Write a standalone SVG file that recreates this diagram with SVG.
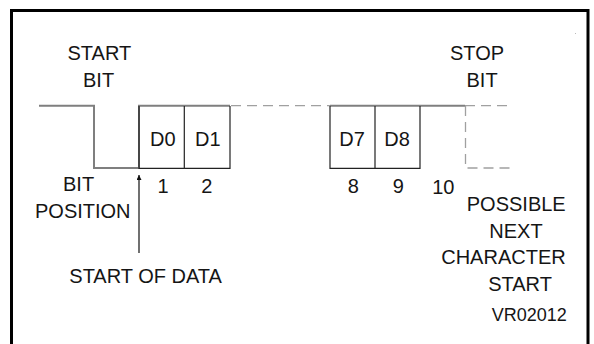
<svg xmlns="http://www.w3.org/2000/svg" width="594" height="344" viewBox="0 0 594 344">
<defs>
<style>
.t{font-family:"Liberation Sans",Arial,sans-serif;font-size:20px;fill:#151515}
.s{font-size:18px}
.w{fill:none;stroke:#7f7f7f;stroke-width:2}
.d{fill:none;stroke:#a0a0a0;stroke-width:1.3;stroke-dasharray:10 6}
.b{fill:none;stroke:#222;stroke-width:1.2}
</style>
<marker id="ah" viewBox="0 0 10 10" refX="10" refY="5" markerWidth="12" markerHeight="5" markerUnits="userSpaceOnUse" orient="auto">
<path d="M0,0 L10,5 L0,10 Z" fill="#111"/>
</marker>
</defs>
<rect width="594" height="344" fill="#fff"/>
<path d="M11.5,348 V10.5 H588 V348" fill="none" stroke="#000" stroke-width="3"/>
<rect x="575" y="33" width="1" height="1" fill="#bbb"/>

<g id="connectors">
<path class="w" d="M39,105.7 H94 V168 H139 V105.7 H230"/>
<path class="w" d="M330,105.7 H465"/>
<path class="d" d="M231,105.7 H330"/>
<path class="d" d="M465,105.7 H511"/>
<path class="d" d="M465.5,106 V168 H511"/>
<line x1="139" y1="253" x2="139" y2="175" stroke="#111" stroke-width="1.2" marker-end="url(#ah)"/>
</g>

<g id="start-bit"><text class="t" x="67.5" y="59.5">START</text><text class="t" x="83" y="86.5">BIT</text></g>
<g id="stop-bit"><text class="t" x="450" y="59.5">STOP</text><text class="t" x="466.5" y="86.5">BIT</text></g>

<g id="box-d0"><path class="b" d="M139,106 V168.3 H184.3 V106"/><text class="t" x="150" y="145.7">D0</text></g>
<g id="box-d1"><path class="b" d="M184.3,168.3 H230 V106"/><text class="t" x="195" y="145.7">D1</text></g>
<g id="box-d7"><path class="b" d="M330,106 V168.3 H375 V106"/><text class="t" x="339.3" y="145.7">D7</text></g>
<g id="box-d8"><path class="b" d="M375,168.3 H420 V106"/><text class="t" x="384.3" y="145.7">D8</text></g>

<g id="bit-numbers">
<text class="t" x="163" y="192.7" text-anchor="middle">1</text>
<text class="t" x="206.7" y="192.7" text-anchor="middle">2</text>
<text class="t" x="353.3" y="192.7" text-anchor="middle">8</text>
<text class="t" x="398.3" y="192.7" text-anchor="middle">9</text>
<text class="t" x="443.3" y="193.5" text-anchor="middle">10</text>
</g>

<g id="bit-position"><text class="t" x="63" y="190.7">BIT</text><text class="t" x="35" y="217.7">POSITION</text></g>
<g id="start-of-data"><text class="t" x="69.3" y="283.3">START OF DATA</text></g>
<g id="next-char">
<text class="t" x="565.7" y="211" text-anchor="end">POSSIBLE</text>
<text class="t" x="516" y="237.7" text-anchor="middle">NEXT</text>
<text class="t" x="565.7" y="264.3" text-anchor="end">CHARACTER</text>
<text class="t" x="520" y="291" text-anchor="middle">START</text>
</g>
<g id="ref"><text class="t s" x="566.7" y="320.5" text-anchor="end">VR02012</text></g>
</svg>
